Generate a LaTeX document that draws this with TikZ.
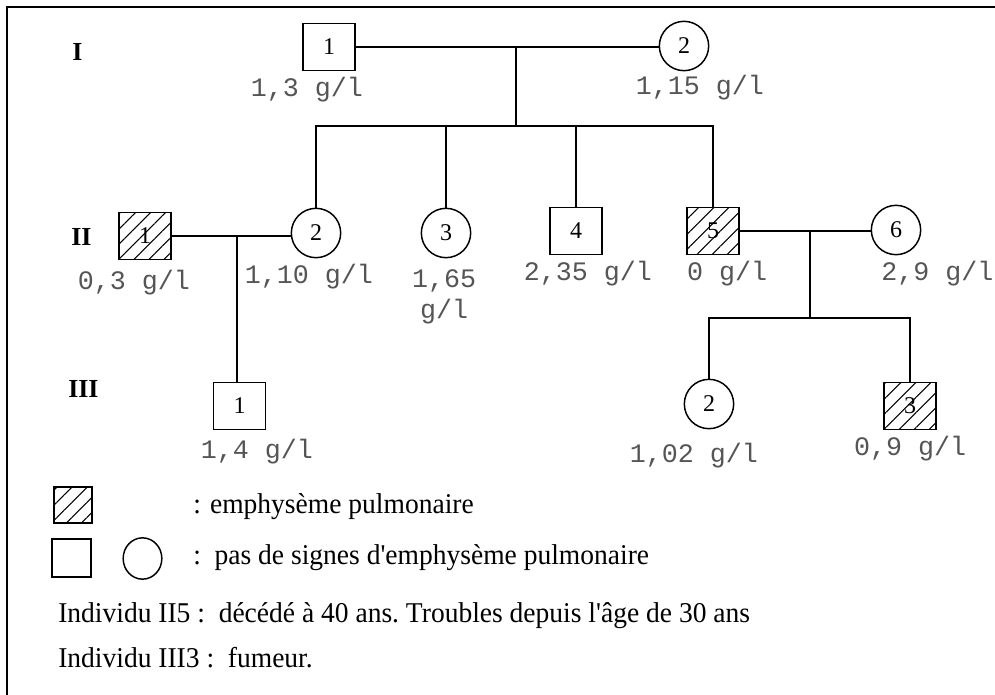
\documentclass[tikz,border=0pt]{standalone}
\usepackage{fontspec}
\setmainfont{Liberation Serif}
\newfontfamily\legfont{Liberation Serif}[FakeStretch=0.96,Ligatures=TeXOff]
\newfontfamily\valfont{Liberation Mono}
\usetikzlibrary{patterns.meta,shapes.geometric}
\definecolor{labgray}{RGB}{85,85,85}
\tikzset{
  sq/.style={draw, line width=1.1pt, minimum width=39pt, minimum height=35.25pt, inner sep=0pt, fill=white, font=\fontsize{18}{18}\selectfont},
  ci/.style={draw, circle, line width=1.1pt, minimum size=37pt, inner sep=0pt, fill=white, font=\fontsize{18}{18}\selectfont},
  hat/.style={pattern={Lines[angle=45,distance=8pt,line width=0.8pt]}},
  val/.style={font=\valfont\fontsize{20}{24}\selectfont, text=labgray, inner sep=0pt, anchor=base},
  gen/.style={font=\bfseries\fontsize{19.5}{19.5}\selectfont, anchor=base west, inner sep=0pt},
  link/.style={line width=1.1pt},
  leg/.style={font=\legfont\fontsize{21.5}{24}\selectfont, anchor=base west, inner sep=0pt},
}
\begin{document}
\begin{tikzpicture}[x=0.75pt,y=-0.75pt]
\useasboundingbox (0,0) rectangle (995,695);
% frame (only top and left edges visible)
\draw[line width=1.5pt] (7,720) -- (7,7) -- (1020,7);

% generation labels
\node[gen] (gI) at (72,61) {I};
\node[gen] (gII) at (71,246) {II};
\node[gen] (gIII) at (68,397) {III};

% generation I
\node[sq] (I1) at (329,47) {1};
\node[ci] (I2) at (684,46) {2};
% generation II
\node[sq,hat] (II1) at (145,236) {1};
\node[ci] (II2) at (316,233) {2};
\node[ci] (II3) at (446,233) {3};
\node[sq] (II4) at (576,231) {4};
\node[sq,hat] (II5) at (713,231) {5};
\node[ci] (II6) at (896,230) {6};
% generation III
\node[sq] (III1) at (239.5,406) {1};
\node[ci] (III2) at (709,404) {2};
\node[sq,hat] (III3) at (910,406) {3};

% connectors
\coordinate (m1) at (516,46);
\coordinate (s1) at (516,126);
\draw[link] (I1.east) -- (I1.east -| I2.west);
\draw[link] (m1) -- (s1);
\draw[link] (II2.north) -- (II2.north |- s1) -- (II5.north |- s1) -- (II5.north);
\draw[link] (II3.north) -- (II3.north |- s1);
\draw[link] (II4.north) -- (II4.north |- s1);

\coordinate (m2) at (237,236);
\draw[link] (II1.east) -- (II1.east -| II2.west);
\draw[link] (m2) -- (m2 |- III1.north);

\coordinate (m3) at (810,231);
\coordinate (s3) at (810,318);
\draw[link] (II5.east) -- (II5.east -| II6.west);
\draw[link] (m3) -- (s3);
\draw[link] (III2.north) -- (III2.north |- s3) -- (III3.north |- s3) -- (III3.north);

% values
\node[val] (vI1) at (307,97) {1,3 g/l};
\node[val] (vI2) at (700,95) {1,15 g/l};
\node[val] (vII1) at (134,289) {0,3 g/l};
\node[val] (vII2) at (309,283) {1,10 g/l};
\node[val] (vII3a) at (444,287) {1,65};
\node[val] (vII3b) at (444,318) {g/l};
\node[val] (vII4) at (588,280) {2,35 g/l};
\node[val] (vII5) at (727,280) {0 g/l};
\node[val,anchor=base west] (vII6) at (881,280) {2,9 g/l};
\node[val] (vIII1) at (257,458) {1,4 g/l};
\node[val] (vIII2) at (694,462) {1,02 g/l};
\node[val] (vIII3) at (910,455) {0,9 g/l};

% legend
\node[draw, line width=1.1pt, minimum width=28.5pt, minimum height=27pt, inner sep=0pt, hat] (Lh) at (73,505) {};
\node[draw, line width=1.1pt, minimum width=29pt, minimum height=28.5pt, inner sep=0pt] (Ls) at (71.5,558) {};
\node[draw, ellipse, line width=1.1pt, minimum width=29pt, minimum height=31pt, inner sep=0pt] (Lc) at (142.5,558.5) {};
\node[leg] (t1) at (193,513) {: emphysème pulmonaire};
\node[leg] (t2) at (193,564) {:\ \ pas de signes d'emphysème pulmonaire};
\node[leg] (t3) at (58,622) {Individu II5 :\ \ décédé à 40 ans.\ Troubles depuis l'âge de 30 ans};
\node[leg] (t4) at (58,667) {Individu III3 :\ \ fumeur.};
\end{tikzpicture}
\end{document}
